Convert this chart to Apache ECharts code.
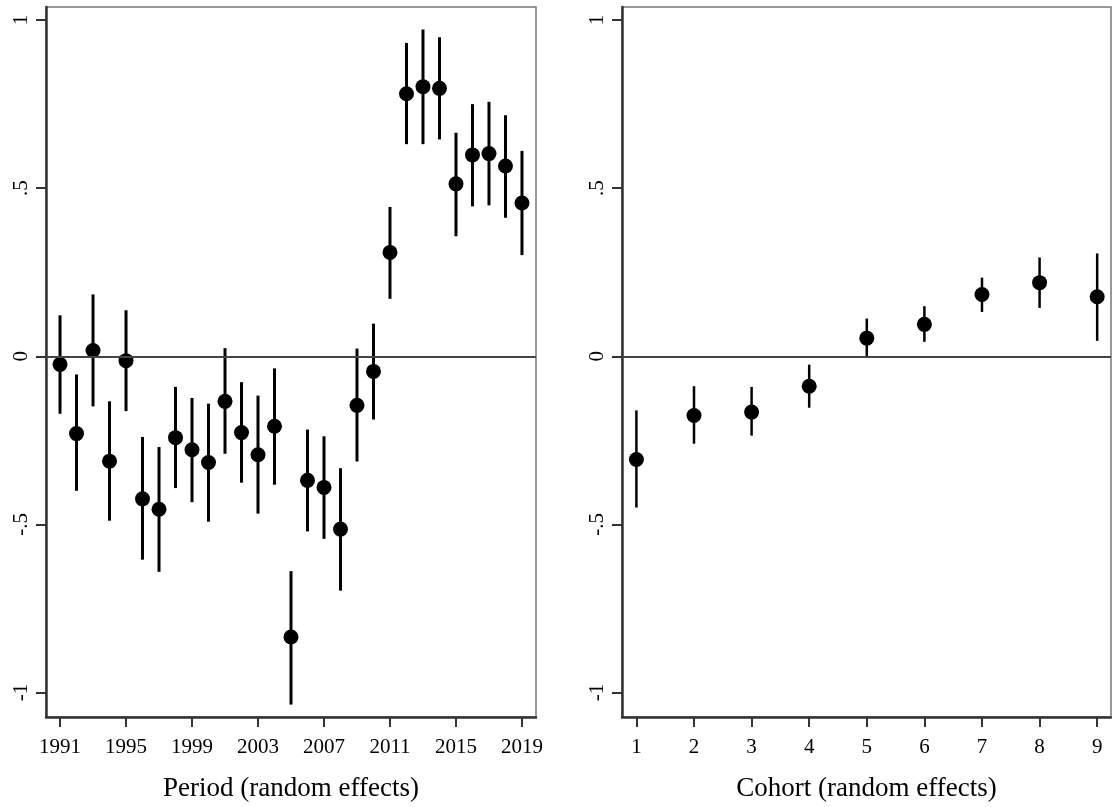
<!DOCTYPE html>
<html>
<head>
<meta charset="utf-8">
<style>
  html, body { margin: 0; padding: 0; background: #fff; }
  #chart-container { width: 1112px; height: 807px; }
</style>
<script src="https://cdn.jsdelivr.net/npm/echarts@6/dist/echarts.min.js"></script>
</head>
<body>
<div id="chart-container"></div>
<script>
var dom = document.getElementById("chart-container");
var myChart = echarts.init(dom, null, { renderer: "canvas" });

// Period random effects (estimate and 95% interval)
var years = [1991, 1992, 1993, 1994, 1995, 1996, 1997, 1998, 1999, 2000,
  2001, 2002, 2003, 2004, 2005, 2006, 2007, 2008, 2009, 2010,
  2011, 2012, 2013, 2014, 2015, 2016, 2017, 2018, 2019];
var periodEst = [-0.024, -0.23, 0.017, -0.312, -0.013, -0.424, -0.455, -0.242, -0.278, -0.316,
  -0.134, -0.227, -0.293, -0.208, -0.835, -0.369, -0.39, -0.514, -0.146, -0.045,
  0.309, 0.781, 0.802, 0.797, 0.513, 0.599, 0.603, 0.566, 0.456];
var periodLo = [-0.171, -0.40, -0.149, -0.489, -0.163, -0.605, -0.641, -0.392, -0.434, -0.492,
  -0.29, -0.376, -0.468, -0.382, -1.036, -0.521, -0.543, -0.697, -0.313, -0.188,
  0.171, 0.631, 0.631, 0.645, 0.357, 0.446, 0.449, 0.412, 0.301];
var periodHi = [0.122, -0.054, 0.184, -0.134, 0.137, -0.24, -0.27, -0.091, -0.124, -0.141,
  0.024, -0.077, -0.117, -0.036, -0.639, -0.218, -0.238, -0.333, 0.023, 0.097,
  0.444, 0.932, 0.972, 0.949, 0.665, 0.75, 0.757, 0.717, 0.611];

// Cohort random effects
var cohorts = [1, 2, 3, 4, 5, 6, 7, 8, 9];
var cohortEst = [-0.307, -0.176, -0.166, -0.089, 0.054, 0.095, 0.184, 0.219, 0.177];
var cohortLo = [-0.45, -0.26, -0.236, -0.153, -0.004, 0.043, 0.132, 0.144, 0.046];
var cohortHi = [-0.161, -0.089, -0.091, -0.025, 0.112, 0.149, 0.234, 0.294, 0.306];

var yTicks = [-1, -0.5, 0, 0.5, 1];
var yearTicks = [1991, 1995, 1999, 2003, 2007, 2011, 2015, 2019];

var font = "Liberation Serif";

function pairs(xs, ys) {
  return xs.map(function (x, i) { return [x, ys[i]]; });
}
function bars(xs, lo, hi) {
  return xs.map(function (x, i) { return [x, lo[i], hi[i]]; });
}
function errorBar(width) {
  return function (params, api) {
    var a = api.coord([api.value(0), api.value(1)]);
    var b = api.coord([api.value(0), api.value(2)]);
    return {
      type: "line",
      shape: { x1: a[0], y1: a[1], x2: b[0], y2: b[1] },
      style: { stroke: "#000", lineWidth: width }
    };
  };
}
function fmtY(v) {
  if (v === 0) return "0";
  return String(v).replace("0.", ".");
}

function xAxisOf(idx, min, max, ticks, name) {
  return {
    type: "value", gridIndex: idx, min: min, max: max,
    name: name, nameLocation: "middle", nameGap: 58,
    nameTextStyle: { fontFamily: font, fontSize: 27, color: "#000" },
    axisLine: { onZero: false, lineStyle: { color: "#333", width: 2.5 } },
    axisTick: { show: true, length: 10, customValues: ticks, lineStyle: { color: "#333", width: 2 } },
    axisLabel: {
      customValues: ticks, margin: 20, fontFamily: font, fontSize: 21, color: "#000",
      formatter: function (v) { return String(v); }
    },
    splitLine: { show: false }
  };
}
function yAxisOf(idx) {
  return {
    type: "value", gridIndex: idx, min: -1.073, max: 1.039,
    axisLine: { show: true, onZero: false, lineStyle: { color: "#333", width: 2.5 } },
    axisTick: { show: true, length: 10, customValues: yTicks, lineStyle: { color: "#333", width: 2 } },
    axisLabel: {
      customValues: yTicks, rotate: 90, margin: 14,
      fontFamily: font, fontSize: 21, color: "#000",
      formatter: fmtY
    },
    splitLine: { show: false }
  };
}

var zeroLine = {
  silent: true, symbol: "none", label: { show: false },
  lineStyle: { color: "#444", width: 2, type: "solid" },
  data: [{ yAxis: 0 }]
};

var option = {
  animation: false,
  grid: [
    { left: 46, top: 7, width: 490, height: 710, show: true, borderColor: "#777", borderWidth: 1.5 },
    { left: 622, top: 7, width: 489, height: 710, show: true, borderColor: "#777", borderWidth: 1.5 }
  ],
  xAxis: [
    xAxisOf(0, 1990.15, 2019.85, yearTicks, "Period (random effects)"),
    xAxisOf(1, 0.75, 9.24, cohorts, "Cohort (random effects)")
  ],
  yAxis: [yAxisOf(0), yAxisOf(1)],
  series: [
    {
      type: "custom", xAxisIndex: 0, yAxisIndex: 0,
      renderItem: errorBar(3), data: bars(years, periodLo, periodHi),
      markLine: zeroLine, z: 2
    },
    {
      type: "scatter", xAxisIndex: 0, yAxisIndex: 0,
      symbolSize: 15, itemStyle: { color: "#000", opacity: 1 },
      data: pairs(years, periodEst), z: 3
    },
    {
      type: "custom", xAxisIndex: 1, yAxisIndex: 1,
      renderItem: errorBar(2.5), data: bars(cohorts, cohortLo, cohortHi),
      markLine: zeroLine, z: 2
    },
    {
      type: "scatter", xAxisIndex: 1, yAxisIndex: 1,
      symbolSize: 15, itemStyle: { color: "#000", opacity: 1 },
      data: pairs(cohorts, cohortEst), z: 3
    }
  ]
};

myChart.setOption(option);
window.addEventListener("resize", myChart.resize);
</script>
</body>
</html>
